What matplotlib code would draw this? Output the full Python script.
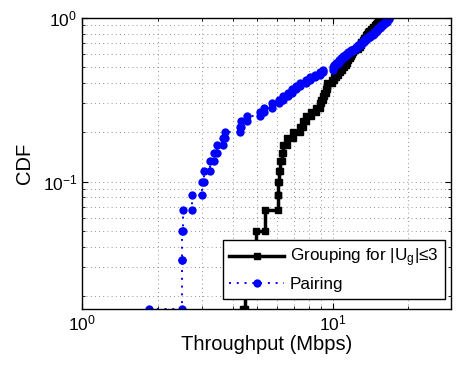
import numpy as np
import matplotlib
matplotlib.use("Agg")
import matplotlib.pyplot as plt

plt.rcParams['font.family'] = ['Liberation Sans', 'DejaVu Sans']
plt.rcParams['mathtext.fontset'] = 'custom'
plt.rcParams['mathtext.rm'] = 'Liberation Sans'
plt.rcParams['mathtext.it'] = 'Liberation Sans:italic'

# sorted throughput samples (Mbps), 60 users each
grouping = [4.38, 4.45, 4.94, 5.37, 6.05, 6.05, 6.08, 6.15, 6.27, 6.35,
            6.58, 6.95, 7.4, 7.6, 7.8, 8.2, 8.6, 8.9, 9.0, 9.1,
            9.2, 9.35, 9.45, 9.5, 9.9, 10.1, 10.3, 10.5, 10.7, 10.9,
            11.1, 11.3, 11.4, 11.5, 11.7, 11.8, 11.9, 12.0, 12.3, 12.6,
            12.8, 12.9, 13.0, 13.2, 13.3, 13.5, 13.6, 13.7, 13.8, 14.0,
            14.2, 14.4, 14.5, 14.7, 14.8, 15.0, 15.1, 15.2, 15.3, 15.4]
pairing = [1.85, 2.5, 2.5, 2.52, 2.75, 3.0, 3.05, 3.25, 3.35, 3.45,
           3.65, 3.7, 4.25, 4.3, 4.55, 5.1, 5.3, 5.7, 6.1, 6.3,
           6.6, 6.9, 7.1, 7.4, 7.8, 8.1, 8.5, 8.9, 9.1, 10.0,
           10.1, 10.3, 10.6, 10.8, 11.0, 11.3, 11.5, 11.8, 12.1, 12.4,
           12.6, 12.9, 13.1, 13.3, 13.5, 13.8, 14.1, 14.4, 14.6, 14.8,
           15.0, 15.2, 15.4, 15.6, 15.8, 16.0, 16.2, 16.4, 16.5, 16.7]

labels = ['Grouping for |U$_{\\mathregular{g}}$|\u22643', 'Pairing']


def stair(x):
    # old-matlab style stairs: every corner is a vertex (and gets a marker)
    x = np.sort(np.asarray(x, dtype=float))
    f = np.arange(1, len(x) + 1) / len(x)
    xs = np.repeat(x, 2)[1:]
    ys = np.repeat(f, 2)[:-1]
    return xs, ys


fig = plt.figure(figsize=(4.64, 3.66), dpi=100)
ax = fig.add_axes([0.177, 0.156, 0.795, 0.795])

xs, ys = stair(grouping)
ax.plot(xs, ys, color='black', lw=2.5, marker='s', ms=5.0, label=labels[0])
xs, ys = stair(pairing)
ax.plot(xs, ys, color='blue', lw=1.4, ls=(0, (1, 3)), marker='o', ms=6.0,
        markeredgewidth=0, label=labels[1])

ax.set_xscale('log')
ax.set_yscale('log')
ax.set_xlim(1, 29.6)
ax.set_ylim(1 / 60, 1)

ax.grid(True, which='both', ls=(0, (1, 4)), color='#707070', lw=0.6)
ax.tick_params(which='both', direction='in', top=True, right=True, labelsize=12.5)
ax.tick_params(which='major', length=4)
ax.tick_params(which='minor', length=2)
ax.set_xticks([1, 10])
ax.set_yticks([0.1, 1])
ax.yaxis.set_minor_formatter(matplotlib.ticker.NullFormatter())
ax.xaxis.set_minor_formatter(matplotlib.ticker.NullFormatter())
for s in ax.spines.values():
    s.set_linewidth(1.0)

ax.set_xlabel('Throughput (Mbps)', fontsize=14.5, labelpad=1)
ax.set_ylabel('CDF', fontsize=14.5, labelpad=6)

leg = ax.legend(loc='lower right', bbox_to_anchor=(0.985, 0.035),
                fontsize=12.3, numpoints=1, fancybox=False,
                edgecolor='black', framealpha=1, borderaxespad=0,
                handlelength=3.2, handletextpad=0.35, borderpad=0.4,
                labelspacing=0.45)
leg.get_frame().set_linewidth(1.0)

fig.savefig('out.png', dpi=100)
